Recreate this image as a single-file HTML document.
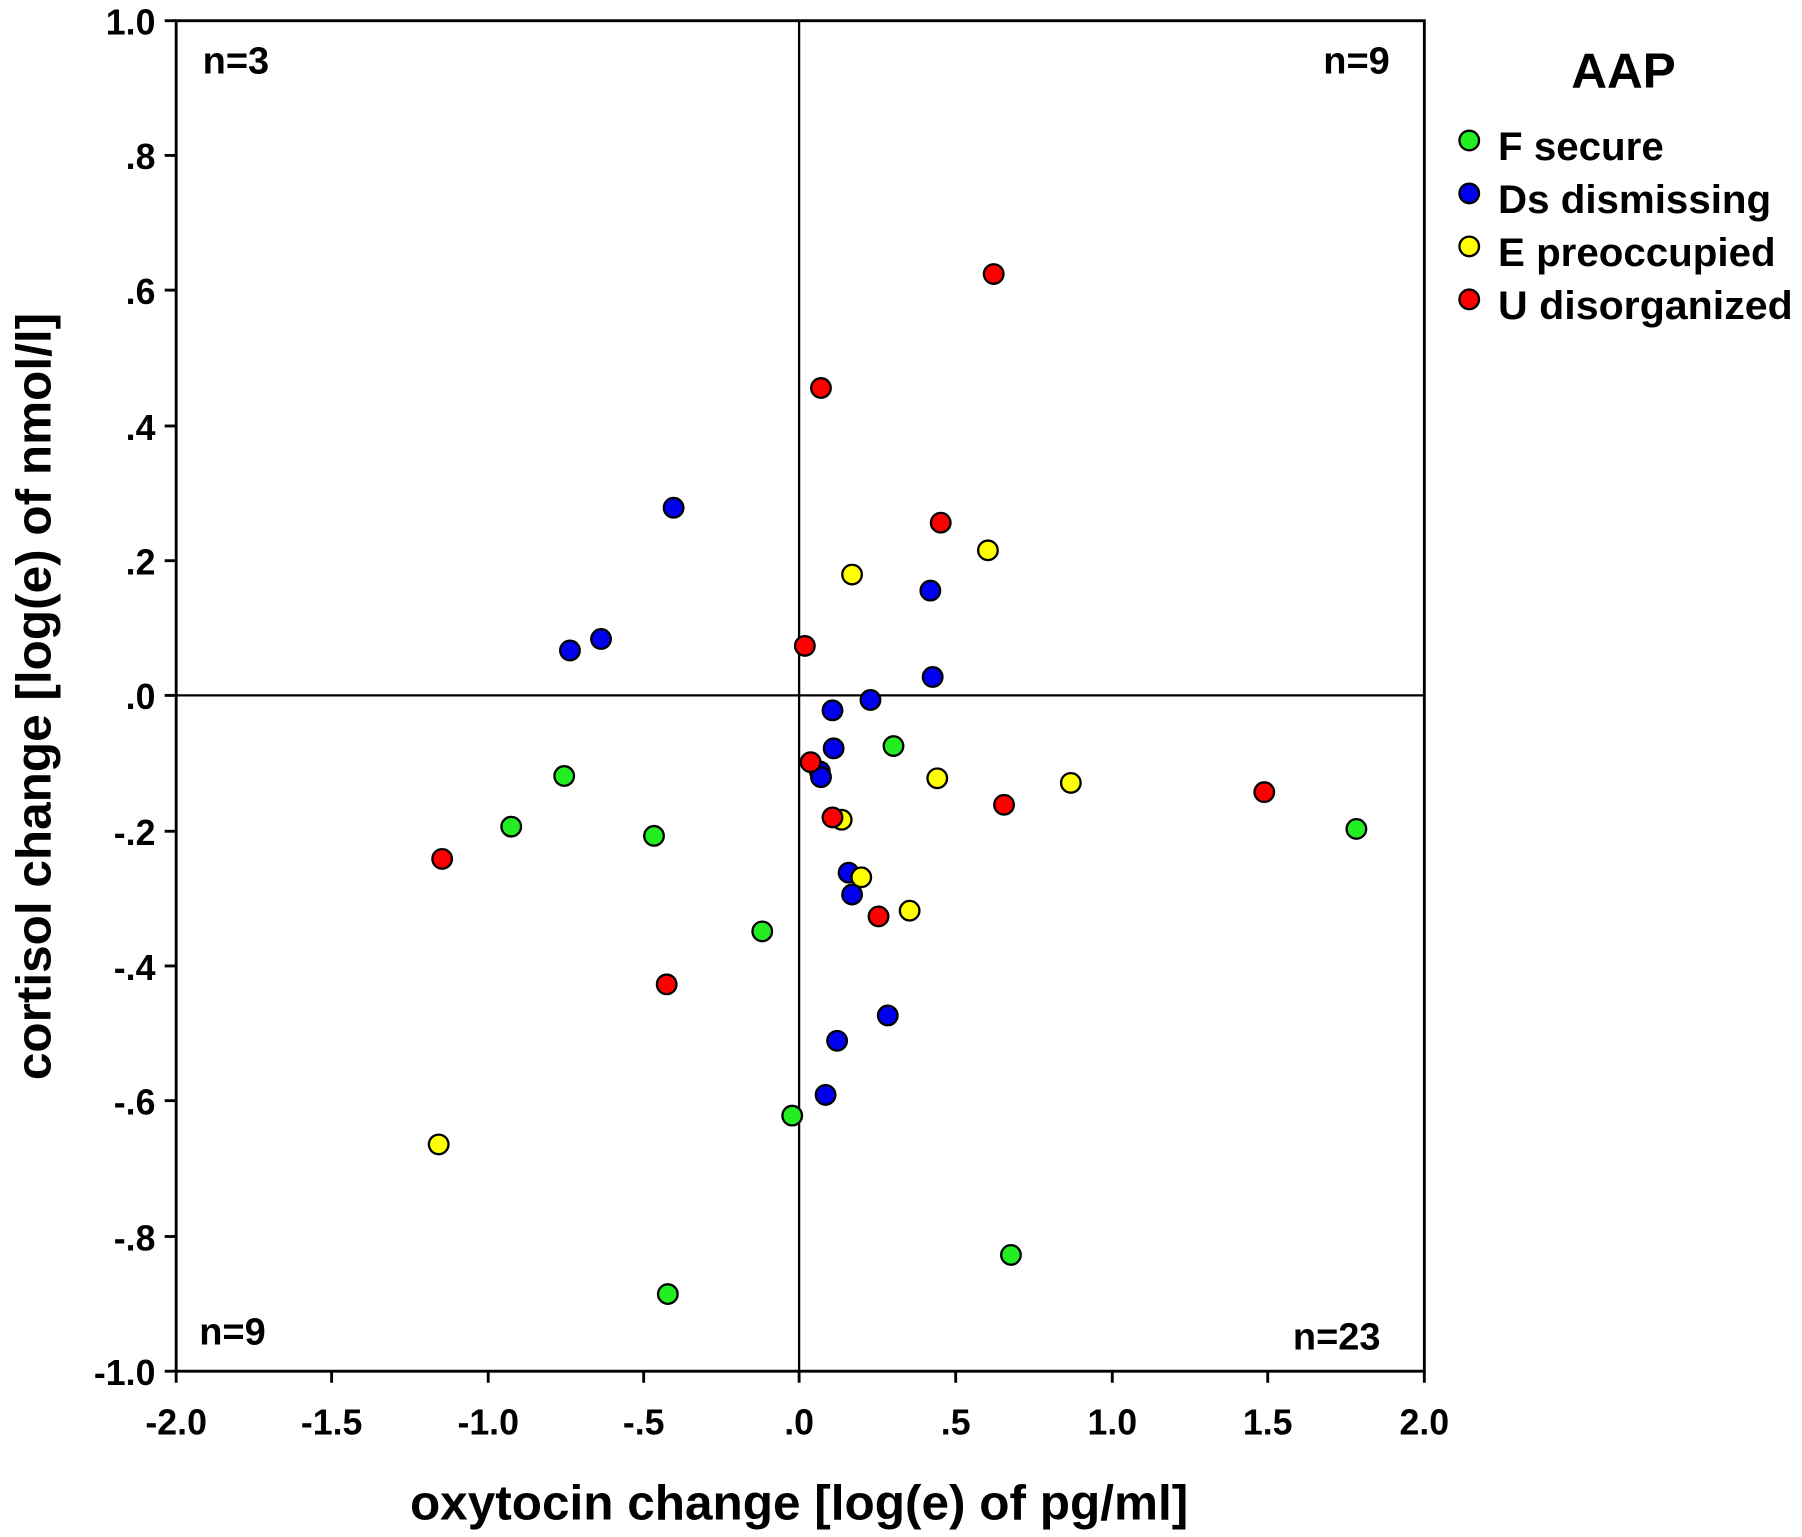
<!DOCTYPE html>
<html><head><style>html,body{margin:0;padding:0;background:#fff}svg{display:block}</style></head>
<body>
<svg width="1802" height="1537" viewBox="0 0 1565 1335" preserveAspectRatio="none" xmlns="http://www.w3.org/2000/svg" font-family="Liberation Sans, Arial, sans-serif" font-weight="bold">
<rect x="153" y="18" width="1084" height="1173" fill="none" stroke="#000" stroke-width="2.5"/>
<line x1="694" y1="18" x2="694" y2="1191" stroke="#000" stroke-width="2"/>
<line x1="153" y1="604" x2="1237" y2="604" stroke="#000" stroke-width="2"/>
<g stroke="#000" stroke-width="2.5">
<line x1="143" y1="18" x2="153" y2="18"/><line x1="143" y1="135" x2="153" y2="135"/><line x1="143" y1="252" x2="153" y2="252"/><line x1="143" y1="370" x2="153" y2="370"/><line x1="143" y1="487" x2="153" y2="487"/><line x1="143" y1="604" x2="153" y2="604"/><line x1="143" y1="722" x2="153" y2="722"/><line x1="143" y1="839" x2="153" y2="839"/><line x1="143" y1="956" x2="153" y2="956"/><line x1="143" y1="1074" x2="153" y2="1074"/><line x1="143" y1="1191" x2="153" y2="1191"/>
<line x1="153" y1="1191" x2="153" y2="1201"/><line x1="288" y1="1191" x2="288" y2="1201"/><line x1="424" y1="1191" x2="424" y2="1201"/><line x1="559" y1="1191" x2="559" y2="1201"/><line x1="694" y1="1191" x2="694" y2="1201"/><line x1="830" y1="1191" x2="830" y2="1201"/><line x1="966" y1="1191" x2="966" y2="1201"/><line x1="1101" y1="1191" x2="1101" y2="1201"/><line x1="1237" y1="1191" x2="1237" y2="1201"/>
</g>
<g font-size="31" text-anchor="end">
<text x="135" y="30">1.0</text><text x="135" y="147">.8</text><text x="135" y="264">.6</text><text x="135" y="382">.4</text><text x="135" y="499">.2</text><text x="135" y="616">.0</text><text x="135" y="734">-.2</text><text x="135" y="851">-.4</text><text x="135" y="968">-.6</text><text x="135" y="1086">-.8</text><text x="135" y="1203">-1.0</text>
</g>
<g font-size="31" text-anchor="middle">
<text x="153" y="1246">-2.0</text><text x="288" y="1246">-1.5</text><text x="424" y="1246">-1.0</text><text x="559" y="1246">-.5</text><text x="694" y="1246">.0</text><text x="830" y="1246">.5</text><text x="966" y="1246">1.0</text><text x="1101" y="1246">1.5</text><text x="1237" y="1246">2.0</text>
</g>
<text x="694" y="1320" font-size="43" text-anchor="middle">oxytocin change [log(e) of pg/ml]</text>
<text transform="translate(44,605) rotate(-90)" font-size="43" text-anchor="middle">cortisol change [log(e) of nmol/l]</text>
<g font-size="33">
<text x="176" y="64">n=3</text><text x="1207" y="64" text-anchor="end">n=9</text><text x="173" y="1168">n=9</text><text x="1199" y="1172" text-anchor="end">n=23</text>
</g>
<text x="1410" y="76" font-size="43" text-anchor="middle">AAP</text>
<g stroke="#000" stroke-width="2">
<circle cx="1276" cy="122" r="8.5" fill="#22ee22"/><circle cx="1276" cy="168" r="8.5" fill="#0000ee"/><circle cx="1276" cy="214" r="8.5" fill="#ffff00"/><circle cx="1276" cy="260" r="8.5" fill="#ff0000"/>
</g>
<g font-size="35">
<text x="1301" y="139">F secure</text><text x="1301" y="185">Ds dismissing</text><text x="1301" y="231">E preoccupied</text><text x="1301" y="277" textLength="256" lengthAdjust="spacingAndGlyphs">U disorganized</text>
</g>
<g stroke="#000" stroke-width="2" fill="#22ee22">
<circle cx="490" cy="674" r="8.5"/><circle cx="444" cy="718" r="8.5"/><circle cx="568" cy="726" r="8.5"/><circle cx="776" cy="648" r="8.5"/><circle cx="662" cy="809" r="8.5"/><circle cx="688" cy="969" r="8.5"/><circle cx="580" cy="1124" r="8.5"/><circle cx="878" cy="1090" r="8.5"/><circle cx="1178" cy="720" r="8.5"/>
</g>
<g stroke="#000" stroke-width="2" fill="#0000ee">
<circle cx="585" cy="441" r="8.5"/><circle cx="522" cy="555" r="8.5"/><circle cx="495" cy="565" r="8.5"/><circle cx="808" cy="513" r="8.5"/><circle cx="810" cy="588" r="8.5"/><circle cx="756" cy="608" r="8.5"/><circle cx="723" cy="617" r="8.5"/><circle cx="724" cy="650" r="8.5"/><circle cx="712" cy="670" r="8.5"/><circle cx="713" cy="675" r="8.5"/><circle cx="737" cy="758" r="8.5"/><circle cx="740" cy="777" r="8.5"/><circle cx="771" cy="882" r="8.5"/><circle cx="727" cy="904" r="8.5"/><circle cx="717" cy="951" r="8.5"/>
</g>
<g stroke="#000" stroke-width="2" fill="#ffff00">
<circle cx="740" cy="499" r="8.5"/><circle cx="858" cy="478" r="8.5"/><circle cx="814" cy="676" r="8.5"/><circle cx="930" cy="680" r="8.5"/><circle cx="731" cy="712" r="8.5"/><circle cx="748" cy="762" r="8.5"/><circle cx="790" cy="791" r="8.5"/><circle cx="381" cy="994" r="8.5"/>
</g>
<g stroke="#000" stroke-width="2" fill="#ff0000">
<circle cx="863" cy="238" r="8.5"/><circle cx="713" cy="337" r="8.5"/><circle cx="817" cy="454" r="8.5"/><circle cx="699" cy="561" r="8.5"/><circle cx="704" cy="662" r="8.5"/><circle cx="723" cy="710" r="8.5"/><circle cx="763" cy="796" r="8.5"/><circle cx="872" cy="699" r="8.5"/><circle cx="1098" cy="688" r="8.5"/><circle cx="384" cy="746" r="8.5"/><circle cx="579" cy="855" r="8.5"/>
</g>
</svg>
</body></html>
